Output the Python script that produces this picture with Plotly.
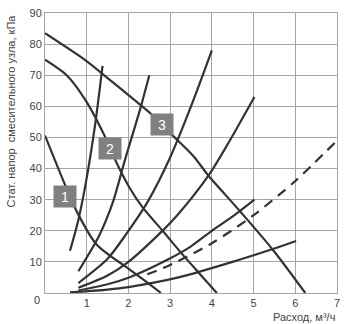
import plotly.graph_objects as go

# Pump characteristics (static head of the mixing unit vs flow)
pump1_q = [0.0, 0.52, 0.75, 1.23, 1.95, 2.4, 2.78]
pump1_h = [50.6, 33.5, 26.5, 15.7, 8.3, 3.9, 0.0]

pump2_q = [0.0, 0.52, 0.97, 1.47, 1.71, 2.02, 2.34, 2.82, 3.29, 3.7, 4.12]
pump2_h = [75.0, 70.0, 62.0, 49.4, 42.0, 34.0, 27.5, 20.0, 12.5, 6.3, 0.0]

pump3_q = [0.0, 0.95, 1.39, 2.3, 2.57, 3.04, 3.57, 3.9, 4.68, 5.48, 6.24]
pump3_h = [83.5, 75.0, 70.3, 60.3, 57.2, 50.9, 43.8, 38.0, 26.2, 13.6, 0.0]

# System (valve) characteristics
sysA_q = [0.6, 0.8, 1.0, 1.2, 1.38]
sysA_h = [13.6, 23.5, 37.0, 54.0, 73.0]

sysB_q = [0.8, 1.3, 1.63, 1.9, 2.3, 2.5]
sysB_h = [7.0, 18.5, 29.3, 42.0, 60.0, 70.0]

sysC_q = [0.8, 1.5, 1.95, 2.46, 2.98, 3.5, 4.0]
sysC_h = [3.2, 11.0, 19.0, 29.3, 43.0, 60.0, 78.0]

sysD_q = [0.8, 1.5, 2.0, 2.74, 3.17, 3.93, 4.4, 5.02]
sysD_h = [1.7, 5.6, 10.0, 19.0, 25.0, 38.0, 48.3, 63.0]

sysE_q = [0.8, 1.5, 2.0, 2.98, 3.5, 4.0, 4.5, 5.02]
sysE_h = [0.8, 2.8, 4.9, 11.0, 15.0, 20.0, 24.6, 30.0]

sysDash_q = [2.45, 3.0, 4.0, 5.0, 6.0, 7.0]
sysDash_h = [6.0, 9.0, 16.0, 25.0, 36.0, 49.0]

sysF_q = [0.6, 1.5, 2.0, 3.2, 4.64, 5.48, 6.02]
sysF_h = [0.2, 1.1, 1.9, 5.0, 10.6, 14.2, 16.7]

# Pump number tags
tag_text = ["1", "2", "3"]
tag_q = [0.476, 1.56, 2.80]
tag_h = [30.9, 46.5, 54.2]

x_ticks = [1, 2, 3, 4, 5, 6, 7]
y_ticks = [10, 20, 30, 40, 50, 60, 70, 80, 90]

FONT = "Liberation Sans, Arial, sans-serif"
LINE = "#333333"
TEXT = "#444444"

fig = go.Figure()

curves = [
    (pump1_q, pump1_h, "solid"),
    (pump2_q, pump2_h, "solid"),
    (pump3_q, pump3_h, "solid"),
    (sysA_q, sysA_h, "solid"),
    (sysB_q, sysB_h, "solid"),
    (sysC_q, sysC_h, "solid"),
    (sysD_q, sysD_h, "solid"),
    (sysE_q, sysE_h, "solid"),
    (sysF_q, sysF_h, "solid"),
    (sysDash_q, sysDash_h, "10px,7px"),
]
for q, h, dash in curves:
    fig.add_trace(go.Scatter(
        x=q, y=h, mode="lines",
        line=dict(color=LINE, width=2.2, dash=dash, shape="spline", smoothing=0.8),
        hoverinfo="skip", showlegend=False,
    ))

for t, q, h in zip(tag_text, tag_q, tag_h):
    fig.add_annotation(
        x=q, y=h, text=t, showarrow=False,
        bgcolor="#808080", width=20, height=19,
        font=dict(family=FONT, size=14, color="white"),
    )

# Shared origin label
fig.add_annotation(
    xref="paper", yref="paper", x=-0.027, y=-0.025, text="0",
    showarrow=False, xanchor="center", yanchor="middle",
    font=dict(family=FONT, size=11, color=TEXT),
)

fig.add_annotation(
    xref="paper", yref="paper", x=-0.115, y=0.65,
    text="Стат. напор  смесительного узла, кПа", textangle=-90,
    showarrow=False, xanchor="center", yanchor="middle",
    font=dict(family=FONT, size=11, color=TEXT),
)

fig.add_annotation(
    xref="paper", yref="paper", x=1.0, y=-0.058,
    text="Расход, м³/ч", showarrow=False,
    xanchor="right", yanchor="top",
    font=dict(family=FONT, size=11, color=TEXT),
)

axis_common = dict(
    showgrid=True, gridcolor="#a6a6a6", gridwidth=1,
    showline=True, linecolor="#a6a6a6", linewidth=1, mirror=True,
    zeroline=False, ticks="",
    tickfont=dict(family=FONT, size=11, color=TEXT),
)

fig.update_layout(
    width=347, height=324,
    margin=dict(l=45, r=7, t=7, b=31),
    paper_bgcolor="white", plot_bgcolor="white",
    xaxis=dict(range=[0, 7], tickvals=x_ticks, **axis_common),
    yaxis=dict(range=[0, 90], tickvals=y_ticks, **axis_common),
)

fig.write_html("out.html")
